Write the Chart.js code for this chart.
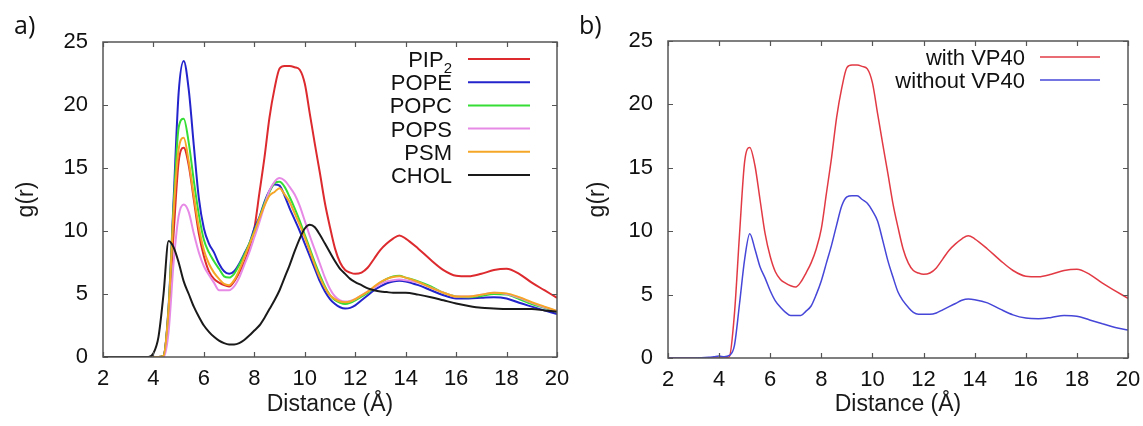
<!DOCTYPE html>
<html><head><meta charset="utf-8">
<script src="https://cdn.jsdelivr.net/npm/chart.js@4"></script>
<style>
html,body{margin:0;padding:0;background:#fff;}
#wrap{position:relative;width:1143px;height:426px;overflow:hidden;background:#fff;}
canvas{position:absolute;top:0;}
</style></head><body>
<div id="wrap">
<canvas id="ca" width="571" height="426" style="left:0"></canvas>
<canvas id="cb" width="572" height="426" style="left:571px"></canvas>
</div>
<script>
// ---- data ----
const distance = [2,3,3.6,3.8,
 4.0,4.2,4.4,4.6,4.8, 5.0,5.2,5.4,5.6,5.8, 6.0,6.2,6.4,6.6,6.8, 7.0,7.2,7.4,7.6,7.8,
 8.0,8.2,8.4,8.6,8.8, 9.0,9.2,9.4,9.6,9.8, 10.0,10.2,10.4,10.6,10.8, 11.0,11.2,11.4,11.6,11.8,
 12.0,12.25,12.5,12.75,13.0,13.25,13.5,13.75,14.0,
 14.5,15.0,15.5,16.0,16.5,17.0,17.5,18.0,18.5,19.0,19.5,20.0];

const pip2 = [0,0,0,0,
 0,0,0.1,3.5,9.8, 15.5,16.6,15.2,12.5,9.8, 8.0,6.8,6.2,5.9,5.7, 5.6,6.0,6.7,7.5,8.6,
 10.2,13.0,15.8,19.0,21.3, 22.9,23.1,23.1,23.0,22.8, 21.7,19.3,16.9,14.6,12.2, 10.3,8.6,7.5,6.9,6.7,
 6.6,6.7,7.1,7.8,8.5,9.0,9.4,9.65,9.4,
 8.6,7.7,6.9,6.45,6.4,6.6,6.9,7.0,6.6,5.9,5.3,4.7];

const pope = [0,0,0,0,
 0,0,0.1,4.0,12.5, 21.0,23.5,21.2,16.8,12.6, 10.2,9.0,8.3,7.4,6.8, 6.6,6.8,7.4,8.2,9.0,
 10.2,11.1,12.3,13.2,13.7, 13.6,12.8,11.8,10.9,10.0, 9.0,8.0,7.0,6.0,5.2, 4.6,4.2,3.95,3.85,3.9,
 4.1,4.5,4.9,5.3,5.6,5.85,6.0,6.05,6.0,
 5.7,5.3,4.9,4.65,4.65,4.7,4.75,4.65,4.3,4.0,3.7,3.4];

const popc = [0,0,0,0,
 0,0,0.1,3.8,12.0, 18.2,18.9,17.0,14.0,11.3, 9.3,8.3,7.6,7.0,6.4, 6.3,6.6,7.3,8.1,9.0,
 10.0,11.0,12.2,13.1,13.8, 13.9,13.5,12.7,11.8,10.8, 9.7,8.6,7.5,6.5,5.6, 4.9,4.5,4.3,4.2,4.3,
 4.5,4.8,5.1,5.5,5.9,6.2,6.4,6.45,6.3,
 6.0,5.6,5.1,4.8,4.75,4.85,5.0,4.95,4.6,4.2,3.9,3.6];

const pops = [0,0,0,0,
 0,0,0,2.0,7.5, 11.2,12.1,11.5,9.8,8.3, 7.2,6.5,5.9,5.3,5.3, 5.3,5.6,6.3,7.3,8.3,
 9.5,10.7,12.0,13.2,13.9, 14.2,14.0,13.5,12.9,12.0, 10.8,9.6,8.5,7.4,6.3, 5.4,4.8,4.5,4.4,4.45,
 4.6,4.9,5.2,5.5,5.8,6.0,6.1,6.15,6.1,
 5.9,5.5,5.1,4.8,4.8,4.95,5.1,5.0,4.7,4.3,3.95,3.65];

const psm = [0,0,0,0,
 0,0,0.1,3.8,11.5, 16.5,17.4,15.5,12.8,10.3, 8.5,7.4,6.7,6.2,5.8, 5.7,6.1,6.9,7.9,8.9,
 9.9,11.0,12.0,12.8,13.1, 13.4,12.9,12.3,11.4,10.5, 9.5,8.4,7.3,6.3,5.5, 4.9,4.6,4.4,4.35,4.4,
 4.6,4.9,5.2,5.6,5.95,6.2,6.35,6.4,6.3,
 5.95,5.5,5.1,4.8,4.8,4.95,5.1,5.05,4.75,4.35,4.0,3.65];

const chol = [0,0,0,0,
 0.3,1.6,5.0,9.2,8.7, 7.5,6.0,5.0,4.0,3.2, 2.5,2.0,1.6,1.3,1.1, 1.0,1.0,1.1,1.35,1.7,
 2.1,2.5,3.1,3.8,4.5, 5.3,6.3,7.3,8.4,9.4, 10.2,10.5,10.3,9.7,9.0, 8.3,7.6,7.0,6.6,6.2,
 5.95,5.7,5.45,5.3,5.2,5.15,5.1,5.1,5.1,
 4.95,4.75,4.5,4.25,4.05,3.9,3.85,3.8,3.8,3.8,3.7,3.6];

const withVP40 = pip2;
const withoutVP40 = [0,0,0.05,0.1,
 0.15,0.1,0.2,1.0,4.3, 7.8,9.8,8.6,7.2,6.3, 5.3,4.5,4.0,3.6,3.35, 3.35,3.35,3.7,4.1,5.0,
 6.1,7.5,8.9,10.5,12.0, 12.7,12.8,12.8,12.5,12.2, 11.6,10.8,9.3,7.7,6.4, 5.2,4.5,4.0,3.6,3.45,
 3.45,3.45,3.55,3.8,4.05,4.3,4.55,4.65,4.6,
 4.35,3.85,3.4,3.15,3.1,3.2,3.35,3.3,3.0,2.7,2.4,2.2];

const xTickValues = [2,4,6,8,10,12,14,16,18,20];
const yTickValues = [0,5,10,15,20,25];

const seriesA = [
  {label:'PIP₂', data:pip2, color:'#dc2a2e'},
  {label:'POPE', data:pope, color:'#2424cc'},
  {label:'POPC', data:popc, color:'#35dd35'},
  {label:'POPS', data:pops, color:'#e68ae6'},
  {label:'PSM',  data:psm,  color:'#f5a626'},
  {label:'CHOL', data:chol, color:'#1a1a1a'}
];
const seriesB = [
  {label:'with VP40', data:withVP40, color:'#e23a44'},
  {label:'without VP40', data:withoutVP40, color:'#4646d8'}
];

// ---- drawing helpers ----
const FONT = "'Liberation Sans', Arial, Helvetica, sans-serif";

function toPoints(ys){ return distance.map((x,i)=>({x:x, y:ys[i]})); }

function zeroPad(s){ s.paddingLeft = 0; s.paddingRight = 0; s.paddingTop = 0; s.paddingBottom = 0; }

function decorPlugin(cfg){
  return {
    id:'decor',
    afterDatasetsDraw(chart){
      const {ctx, chartArea:{left,right,top,bottom}, scales:{x,y}} = chart;
      ctx.save();
      // inward ticks on all four sides
      ctx.strokeStyle = '#555'; ctx.lineWidth = 1.2;
      ctx.beginPath();
      x.ticks.forEach(t=>{ const p = Math.round(x.getPixelForValue(t.value))+0.5;
        ctx.moveTo(p,bottom); ctx.lineTo(p,bottom-5); ctx.moveTo(p,top); ctx.lineTo(p,top+5); });
      y.ticks.forEach(t=>{ const p = Math.round(y.getPixelForValue(t.value))+0.5;
        ctx.moveTo(left,p); ctx.lineTo(left+5,p); ctx.moveTo(right,p); ctx.lineTo(right-5,p); });
      ctx.stroke();
      ctx.lineWidth = 1.5;
      ctx.strokeRect(left,top,right-left,bottom-top);
      // legend (gnuplot style: right-aligned text, then sample line)
      const lineEnd = right - cfg.rightInset, lineStart = lineEnd - cfg.lineLen, textRight = lineStart - cfg.gap;
      chart.data.datasets.forEach((ds,i)=>{
        const yy = top + cfg.firstY + i*cfg.rowH;
        ctx.strokeStyle = ds.borderColor; ctx.lineWidth = cfg.legendLineWidth;
        ctx.beginPath(); ctx.moveTo(lineStart,yy); ctx.lineTo(lineEnd,yy); ctx.stroke();
        ctx.fillStyle = '#111'; ctx.textBaseline = 'alphabetic'; ctx.textAlign = 'left';
        const base = yy + cfg.fontSize*0.36;
        const lab = ds.label;
        if (lab.indexOf('₂') >= 0){
          const main = lab.replace('₂','');
          ctx.font = cfg.fontSize+'px '+FONT;
          const wm = ctx.measureText(main).width;
          ctx.font = Math.round(cfg.fontSize*0.7)+'px '+FONT;
          const ws = ctx.measureText('2').width;
          const x0 = textRight - wm - ws;
          ctx.font = cfg.fontSize+'px '+FONT;
          ctx.fillText(main, x0, base);
          ctx.font = Math.round(cfg.fontSize*0.7)+'px '+FONT;
          ctx.fillText('2', x0+wm, base+6);
        } else {
          ctx.font = cfg.fontSize+'px '+FONT;
          ctx.textAlign = 'right';
          ctx.fillText(lab, textRight, base);
        }
      });
      // panel label
      ctx.fillStyle = '#111'; ctx.textAlign = 'left'; ctx.textBaseline = 'alphabetic';
      ctx.font = "25px 'Open Sans', 'Liberation Sans', sans-serif";
      ctx.fillText(cfg.panel, cfg.panelX, cfg.panelY);
      ctx.restore();
    }
  };
}

function makeChart(id, series, lw, geom, legendCfg){
  const n = series.length;
  return new Chart(document.getElementById(id), {
    type:'line',
    data:{ datasets: series.map((s,i)=>({
      label:s.label, data:toPoints(s.data), borderColor:s.color, backgroundColor:s.color,
      borderWidth:lw, pointRadius:0, cubicInterpolationMode:'monotone', fill:false, order:n-i
    }))},
    options:{
      responsive:false, animation:false, devicePixelRatio:1,
      layout:{padding:{left:0, right:geom.padRight, top:geom.padTop, bottom:0}},
      plugins:{legend:{display:false}, tooltip:{enabled:false}},
      scales:{
        x:{ type:'linear', min:2, max:20,
          afterBuildTicks:s=>{ s.ticks = xTickValues.map(v=>({value:v})); },
          afterFit:s=>{ s.height = geom.xHeight; zeroPad(s); },
          grid:{display:false, drawTicks:false}, border:{display:false},
          ticks:{font:{family:FONT, size:22}, color:'#111', padding:9, maxRotation:0, autoSkip:false,
                 callback:v=>String(v)},
          title:{display:true, text:'Distance (Å)', color:'#1a1a1a', font:{family:FONT, size:23},
                 padding:{top:0,bottom:8}}
        },
        y:{ type:'linear', min:0, max:25,
          afterBuildTicks:s=>{ s.ticks = yTickValues.map(v=>({value:v})); },
          afterFit:s=>{ s.width = geom.yWidth; zeroPad(s); },
          grid:{display:false, drawTicks:false}, border:{display:false},
          ticks:{font:{family:FONT, size:22}, color:'#111', padding:15, autoSkip:false,
                 callback:v=>String(v)},
          title:{display:true, text:'g(r)', color:'#1a1a1a', font:{family:FONT, size:23},
                 padding:{top:13,bottom:0}}
        }
      }
    },
    plugins:[decorPlugin(legendCfg)]
  });
}

makeChart('ca', seriesA, 2,
  {padRight:14, padTop:42, xHeight:69, yWidth:103},
  {rightInset:27, lineLen:62, gap:16, firstY:17, rowH:23.2, fontSize:22, legendLineWidth:2,
   panel:'a)', panelX:14, panelY:34});
makeChart('cb', seriesB, 1.5,
  {padRight:15, padTop:41, xHeight:68, yWidth:97},
  {rightInset:28, lineLen:60, gap:15, firstY:16, rowH:23, fontSize:22, legendLineWidth:1.6,
   panel:'b)', panelX:8, panelY:34});
</script>
</body></html>
